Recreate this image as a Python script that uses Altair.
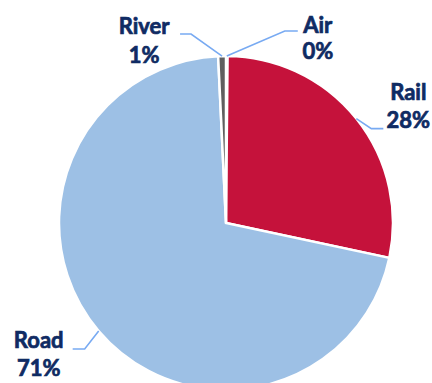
import math
import altair as alt
import pandas as pd

# ---- data ----
categories = ["Air", "Rail", "Road", "River"]
values = [0.15, 28.2, 70.9, 0.75]
pct_labels = ["0%", "28%", "71%", "1%"]

# ---- style / layout ----
colors = ["#1F3864", "#C5123B", "#9DC0E5", "#5F5F5F"]
W, H = 432, 383
CX, CY, R = 226, 223, 167
# leader layout per category: elbow offset (dx, dy), horizontal length,
# label centre offset from end x, name baseline offset, pct baseline offset
elbow_dx = [58, 15, -14, -31]
elbow_dy = [-25, 10, 18, -22]
horiz = [13, 12, -12, -11]
label_dx = [20, 25, -34, -36]
name_dy = [2, -29, -1, 0]
pct_dy = [28, -1, 27, 29]

total = sum(values)
cum = 0.0
line_rows, text_rows = [], []
for i, (c, v) in enumerate(zip(categories, values)):
    mid = 2 * math.pi * (cum + v / 2) / total
    cum += v
    x0 = CX + R * math.sin(mid)
    y0 = CY - R * math.cos(mid)
    x1, y1 = x0 + elbow_dx[i], y0 + elbow_dy[i]
    x2, y2 = x1 + horiz[i], y1
    for k, (px, py) in enumerate([(x0, y0), (x1, y1), (x2, y2)]):
        line_rows.append({"cat": c, "k": k, "px": px, "py": py})
    text_rows.append({"cat": c, "px": x2 + label_dx[i], "py": y2 + name_dy[i], "t": c})
    text_rows.append({"cat": c, "px": x2 + label_dx[i], "py": y2 + pct_dy[i], "t": pct_labels[i]})

pie_df = pd.DataFrame({"cat": categories, "value": values, "idx": range(len(categories))})
line_df = pd.DataFrame(line_rows)
text_df = pd.DataFrame(text_rows)

xs = alt.Scale(domain=[0, W], range=[0, W])
ys = alt.Scale(domain=[0, H], range=[0, H])

pie = alt.Chart(pie_df).mark_arc(radius=R, stroke="white", strokeWidth=2.5).encode(
    theta=alt.Theta("value:Q", stack=True),
    order=alt.Order("idx:Q"),
    color=alt.Color("cat:N", scale=alt.Scale(domain=categories, range=colors), legend=None),
    x=alt.value(CX),
    y=alt.value(CY),
)

lines = alt.Chart(line_df).mark_line(color="#78AAF2", strokeWidth=1.6).encode(
    x=alt.X("px:Q", scale=xs, axis=None),
    y=alt.Y("py:Q", scale=ys, axis=None),
    detail="cat:N",
    order="k:Q",
)

texts = alt.Chart(text_df).mark_text(
    font="Lato", fontWeight="bold", fontSize=22, color="#0F2B63",
    stroke="#0F2B63", strokeWidth=0.7,
    align="center", baseline="alphabetic",
).encode(
    x=alt.X("px:Q", scale=xs, axis=None),
    y=alt.Y("py:Q", scale=ys, axis=None),
    text="t:N",
)

chart = alt.layer(pie, lines, texts).properties(
    width=W, height=H, padding=0, autosize=alt.AutoSizeParams(type="none")
).configure_view(stroke=None).resolve_scale(x="shared", y="shared")

chart.save("out.html", embed_options={"renderer": "svg", "actions": False})
